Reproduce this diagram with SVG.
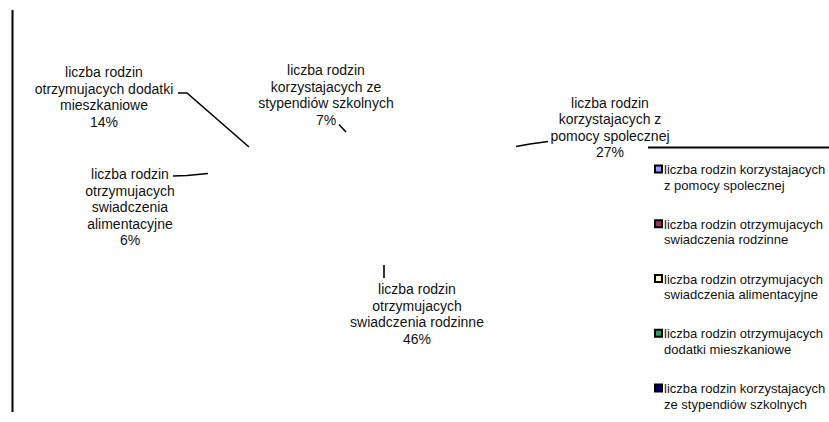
<svg xmlns="http://www.w3.org/2000/svg" width="829" height="422" viewBox="0 0 829 422">
<style>
  .lbl { font-family: "Liberation Sans", Arial, sans-serif; font-size: 14px; fill: #111; text-anchor: middle; }
  .leg { font-family: "Liberation Sans", Arial, sans-serif; font-size: 13px; fill: #111; }
  .ld { fill: none; stroke: #000; stroke-width: 1.6; }
  .frame { stroke: #000; stroke-width: 2; }
  .mk { stroke: #000; stroke-width: 2; }
</style>
<rect width="829" height="422" fill="#fff"/>
<line class="frame" x1="12.5" y1="10" x2="12.5" y2="412"/>
<line class="frame" x1="648" y1="147.5" x2="829" y2="147.5"/>

<g id="connectors">
  <polyline class="ld" points="178,93 187,93 249,147"/>
  <polyline class="ld" points="339,124.5 346,132"/>
  <polyline class="ld" points="516,146.5 530,144 548,141.5"/>
  <polyline class="ld" points="173,176 187,175.5 208,173.5"/>
  <polyline class="ld" points="384,265 384,278"/>
</g>

<g id="label-dodatki">
  <text class="lbl" x="104" y="77">liczba rodzin</text>
  <text class="lbl" x="104" y="93.5">otrzymujacych dodatki</text>
  <text class="lbl" x="104" y="110">mieszkaniowe</text>
  <text class="lbl" x="104" y="126.5">14%</text>
</g>
<g id="label-stypendia">
  <text class="lbl" x="326" y="75">liczba rodzin</text>
  <text class="lbl" x="326" y="91.5">korzystajacych ze</text>
  <text class="lbl" x="326" y="108">stypendiów szkolnych</text>
  <text class="lbl" x="326" y="124.5">7%</text>
</g>
<g id="label-pomoc">
  <text class="lbl" x="610" y="107.5">liczba rodzin</text>
  <text class="lbl" x="610" y="124">korzystajacych z</text>
  <text class="lbl" x="610" y="140.5">pomocy spolecznej</text>
  <text class="lbl" x="610" y="157">27%</text>
</g>
<g id="label-alimentacyjne">
  <text class="lbl" x="130" y="179">liczba rodzin</text>
  <text class="lbl" x="130" y="195.5">otrzymujacych</text>
  <text class="lbl" x="130" y="212">swiadczenia</text>
  <text class="lbl" x="130" y="228.5">alimentacyjne</text>
  <text class="lbl" x="130" y="245">6%</text>
</g>
<g id="label-rodzinne">
  <text class="lbl" x="417" y="294">liczba rodzin</text>
  <text class="lbl" x="417" y="310.5">otrzymujacych</text>
  <text class="lbl" x="417" y="327">swiadczenia rodzinne</text>
  <text class="lbl" x="417" y="343.5">46%</text>
</g>

<g id="legend-pomoc">
  <rect class="mk" x="655" y="165.5" width="7" height="7" fill="#9999FF"/>
  <text class="leg" x="664" y="174">liczba rodzin korzystajacych</text>
  <text class="leg" x="664" y="189.5">z pomocy spolecznej</text>
</g>
<g id="legend-rodzinne">
  <rect class="mk" x="655" y="220.25" width="7" height="7" fill="#993366"/>
  <text class="leg" x="664" y="228.75">liczba rodzin otrzymujacych</text>
  <text class="leg" x="664" y="244.25">swiadczenia rodzinne</text>
</g>
<g id="legend-alimentacyjne">
  <rect class="mk" x="655" y="275" width="7" height="7" fill="#FFFFCC"/>
  <text class="leg" x="664" y="283.5">liczba rodzin otrzymujacych</text>
  <text class="leg" x="664" y="299">swiadczenia alimentacyjne</text>
</g>
<g id="legend-dodatki">
  <rect class="mk" x="655" y="329.75" width="7" height="7" fill="#339966"/>
  <text class="leg" x="664" y="338.25">liczba rodzin otrzymujacych</text>
  <text class="leg" x="664" y="353.75">dodatki mieszkaniowe</text>
</g>
<g id="legend-stypendia">
  <rect class="mk" x="655" y="384.5" width="7" height="7" fill="#000080"/>
  <text class="leg" x="664" y="393">liczba rodzin korzystajacych</text>
  <text class="leg" x="664" y="408.5">ze stypendiów szkolnych</text>
</g>
</svg>
